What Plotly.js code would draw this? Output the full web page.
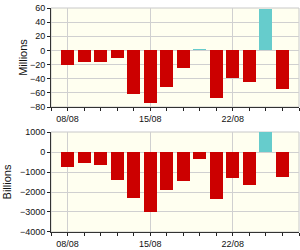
<!DOCTYPE html>
<html><head><meta charset="utf-8">
<script src="https://cdn.plot.ly/plotly-3.0.1.min.js"></script>
<style>html,body{margin:0;padding:0;background:#fff}#c{width:300px;height:250px}</style>
</head><body><div id="c"></div>
<script>
const dates = ['08/08','09/08','10/08','11/08','12/08','15/08','16/08','17/08','18/08','19/08','22/08','23/08','24/08','25/08'];
const tickLabels = ['08/08','15/08','22/08'];
const millions = [-20,-16.5,-16.5,-10.5,-61,-75,-51,-24.5,1.5,-67,-38.5,-44,59,-54];
const billions = [-770,-570,-670,-1400,-2320,-2985,-1920,-1470,-370,-2370,-1320,-1670,980,-1270];
const upColor = '#66cccc', downColor = '#cc0000';

const xIdx = dates.map((d,i)=>i);
const tickvals = tickLabels.map(l=>dates.indexOf(l));
const font = {family:'Liberation Sans, Arial, sans-serif', size:9, color:'#111'};

function bar(vals, xa, ya){
  return {type:'bar', x:xIdx, y:vals, xaxis:xa, yaxis:ya, width:0.78,
    marker:{color:vals.map(v=>v>=0?upColor:downColor), line:{width:0}},
    hoverinfo:'none', showlegend:false};
}
function xaxis(anchor){
  return {anchor:anchor, range:[-1, dates.length], tickmode:'array', tickvals:tickvals, ticktext:tickLabels,
    ticks:'outside', ticklen:3, tickcolor:'#222', showgrid:true, gridcolor:'#d0d0d0', gridwidth:1,
    showline:true, linecolor:'#333', linewidth:1, zeroline:false, tickfont:font, fixedrange:true,
    minor:{tickmode:'linear', tick0:0, dtick:1, ticks:'outside', ticklen:3, tickcolor:'#222', showgrid:false}};
}
function yaxis(anchor, range, dtick, title, domain, standoff){
  return {anchor:anchor, domain:domain, range:range, dtick:dtick, tick0:0, ticks:'outside', ticklen:3, tickcolor:'#222',
    showgrid:true, gridcolor:'#d0d0d0', gridwidth:1, zeroline:false, showline:true, linecolor:'#333', linewidth:1,
    tickfont:font, title:{text:title, font:{family:'Liberation Sans, Arial, sans-serif', size:11, color:'#111'}, standoff:standoff}};
}
const layout = {
  width:300, height:250, margin:{l:51, r:1, t:8, b:18},
  paper_bgcolor:'#ffffff', plot_bgcolor:'#fffff0', bargap:0,
  xaxis: xaxis('y'), yaxis: yaxis('x', [-80,60], 20, 'Millions', [0.558,1], 0),
  xaxis2: xaxis('y2'), yaxis2: yaxis('x2', [-4000,1000], 1000, 'Billions', [0,0.4464], 6),
  shapes:[
    {type:'rect', xref:'x domain', yref:'y domain', x0:0, x1:1, y0:0, y1:1, line:{color:'#c8c8c8', width:1}, layer:'below'},
    {type:'rect', xref:'x2 domain', yref:'y2 domain', x0:0, x1:1, y0:0, y1:1, line:{color:'#c8c8c8', width:1}, layer:'below'}
  ]
};
Plotly.newPlot('c', [bar(millions,'x','y'), bar(billions,'x2','y2')], layout, {displayModeBar:false, staticPlot:true});
</script></body></html>
